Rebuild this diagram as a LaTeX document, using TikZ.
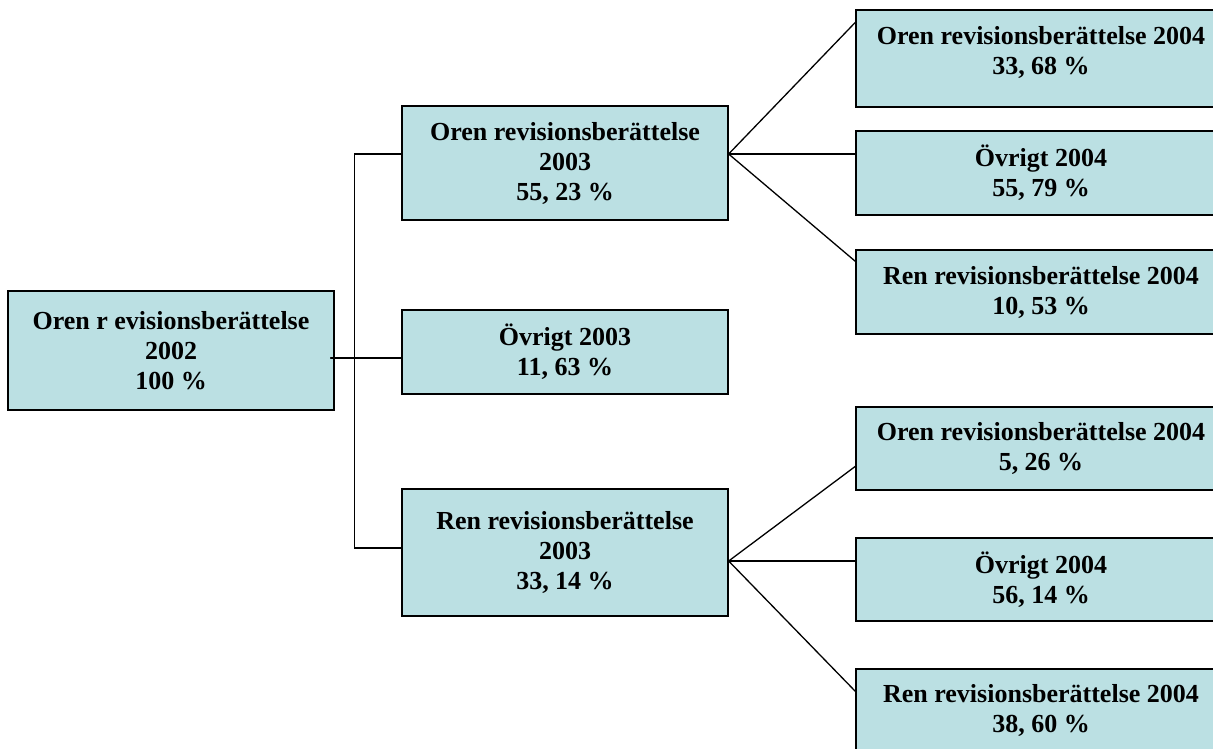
\documentclass[tikz,border=0pt]{standalone}
\usepackage{fontspec}
\setmainfont{Liberation Serif}
\definecolor{boxfill}{RGB}{187,224,227}
\begin{document}
\begin{tikzpicture}[x=1pt,y=-1pt,
  box/.style={draw=black, line width=1.3pt, fill=boxfill, inner sep=0pt, align=center,
    font=\bfseries\fontsize{26}{30}\selectfont},
  boxtext/.style={inner sep=0pt, align=center, font=\bfseries\fontsize{26}{30}\selectfont},
  conn/.style={line width=1.3pt, line cap=round}]
\useasboundingbox (0,0) rectangle (1213,749);
\clip (0,0) rectangle (1213,749);
\fill[white] (0,0) rectangle (1213,749);

% connection points for root
\coordinate (rs) at (330,358);

% root connector drawn first (starts slightly inside the box)
% nodes
\node[box, minimum width=326, minimum height=119] (root) at (171,350.5)
  {Oren r evisionsberättelse\\2002\\100 \%};
\node[box, minimum width=326, minimum height=114] (m1) at (565,163)
  {Oren revisionsberättelse\\2003\\55, 23 \%};
\node[box, minimum width=326, minimum height=84] (m2) at (565,352)
  {Övrigt 2003\\11, 63 \%};
\node[box, minimum width=326, minimum height=127] (m3) at (565,552.5)
  {Ren revisionsberättelse\\2003\\33, 14 \%};

\node[box, minimum width=370, minimum height=97] (r1) at (1041,58.5) {};
\node[boxtext] (r1t) at (1041,52) {Oren revisionsberättelse 2004\\33, 68 \%};
\node[box, minimum width=370, minimum height=84] (r2) at (1041,173)
  {Övrigt 2004\\55, 79 \%};
\node[box, minimum width=370, minimum height=84] (r3) at (1041,292)
  {Ren revisionsberättelse 2004\\10, 53 \%};
\node[box, minimum width=370, minimum height=83] (r4) at (1041,448.5)
  {Oren revisionsberättelse 2004\\5, 26 \%};
\node[box, minimum width=370, minimum height=83] (r5) at (1041,579.5)
  {Övrigt 2004\\56, 14 \%};
\node[box, minimum width=370, minimum height=83] (r6) at (1041,710.5)
  {Ren revisionsberättelse 2004\\38, 60 \%};

% connection points
\coordinate (f1) at ([yshift=9pt]m1.east);
\coordinate (f2) at ([yshift=-8.5pt]m3.east);
\coordinate (l1) at ([yshift=9pt]m1.west);
\coordinate (l3) at ([yshift=4.5pt]m3.west);
\coordinate (r0) at ([yshift=-7.5pt]root.east);

% connectors
\draw[conn] ([xshift=-4pt]r0) -- (r0 -| m2.west);
\draw[conn] (l1) -- ([xshift=-47pt]l1) -- ([xshift=-47pt]l3) -- (l3);
\draw[conn] (f1) -- ([yshift=-13pt]r1.north west);
\draw[conn] (f1) -- (f1 -| r2.west);
\draw[conn] (f1) -- ([yshift=-12pt]r3.north west);
\draw[conn] (f2) -- ([yshift=-60pt]r4.north west);
\draw[conn] (f2) -- (f2 -| r5.west);
\draw[conn] (f2) -- ([yshift=-23pt]r6.north west);
\end{tikzpicture}
\end{document}
